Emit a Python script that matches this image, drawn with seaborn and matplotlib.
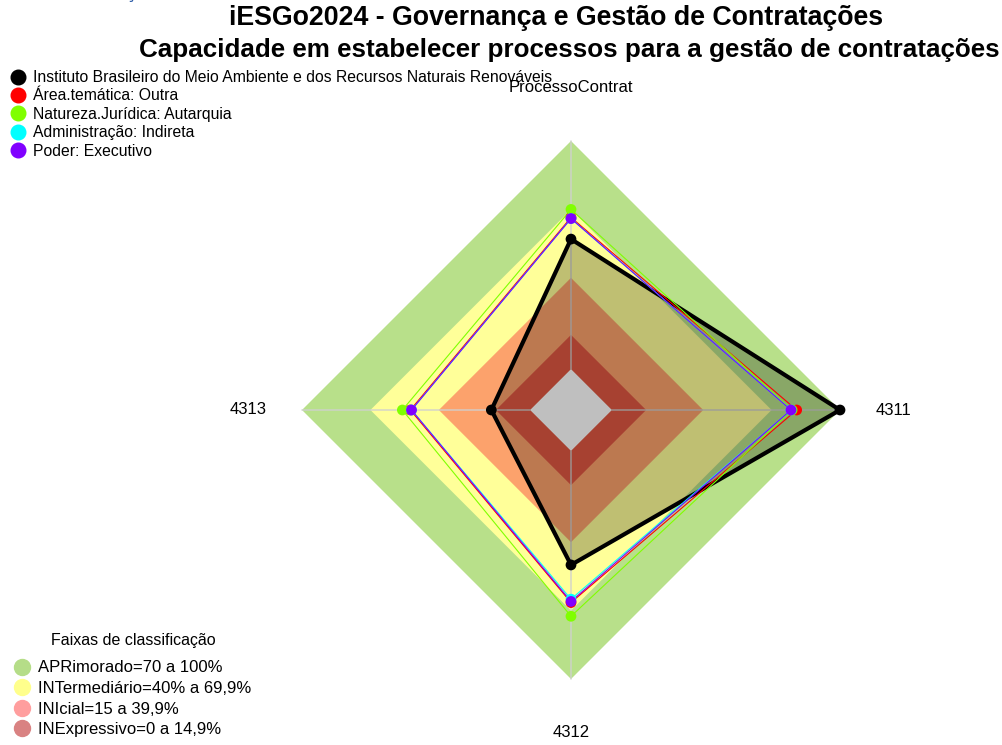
import numpy as np
import pandas as pd
import matplotlib
matplotlib.use("Agg")
import matplotlib.pyplot as plt
from matplotlib.lines import Line2D
import seaborn as sns

sns.set_style("white")
plt.rcParams["font.family"] = ["Liberation Sans", "DejaVu Sans"]
plt.rcParams["text.color"] = "black"

# Axes of the radar (clockwise from the top)
categories = ["ProcessoContrat", "4311", "4312", "4313"]
angles_deg = [90, 0, -90, 180]

# Scores (%) per axis
inst_vals = [57, 100, 50, 17]
area_vals = [66.5, 81, 66.5, 52.5]
natureza_vals = [70, 79, 72.5, 56]
admin_vals = [66, 78.5, 65, 52]
poder_vals = [66, 78.5, 66, 52]

series_names = [
    "Instituto Brasileiro do Meio Ambiente e dos Recursos Naturais Renováveis",
    "Área.temática: Outra",
    "Natureza.Jurídica: Autarquia",
    "Administração: Indireta",
    "Poder: Executivo",
]
series_vals = [inst_vals, area_vals, natureza_vals, admin_vals, poder_vals]
series_colors = ["black", "#FF0000", "#80FF00", "#00FFFF", "#8000FF"]

# Classification bands
band_levels = [100, 70, 40, 15, 0]
band_fill = ["#B8E08A", "#FFFF99", "#FCA26C", "#DF5842", "white"]
band_title = "Faixas de classificação"
band_labels = ["APRimorado=70 a 100%", "INTermediário=40% a 69,9%",
               "INIcial=15 a 39,9%", "INExpressivo=0 a 14,9%"]
band_legend_colors = ["#B5DD88", "#FFFF8C", "#FF9E9E", "#D98282"]

HOLE = 0.152  # radius of the inner hole (value 0)


def radius(v):
    return HOLE + (1 - HOLE) * np.asarray(v, dtype=float) / 100.0


theta = np.deg2rad(angles_deg)


def to_xy(vals, close=True):
    r = radius(vals)
    x = r * np.cos(theta)
    y = r * np.sin(theta)
    if close:
        x = np.append(x, x[0])
        y = np.append(y, y[0])
    return pd.DataFrame({"x": x, "y": y})


W, H = 1003, 745
cx, cy, R = 571, 410, 269
fig = plt.figure(figsize=(W / 100, H / 100), dpi=100)
ax = fig.add_axes([0, 0, 1, 1])
ax.set_xlim(-cx / R, (W - cx) / R)
ax.set_ylim(-(H - cy) / R, cy / R)
ax.axis("off")

# Background bands, outermost first
for lvl, col in zip(band_levels, band_fill):
    d = to_xy([lvl] * 4)
    ax.fill(d["x"], d["y"], color=col, lw=0, zorder=1)

# Axis spokes
for t in theta:
    r0, r1 = radius(0), radius(100)
    ax.plot([r0 * np.cos(t), r1 * np.cos(t)], [r0 * np.sin(t), r1 * np.sin(t)],
            color="#D0D0D0", lw=1.2, alpha=0.8, zorder=2)

# Institution polygon (filled) and comparison series
inst = to_xy(inst_vals)
ax.fill(inst["x"], inst["y"], color="black", alpha=0.25, lw=0, zorder=3)
sns.lineplot(data=inst, x="x", y="y", sort=False, estimator=None,
             color="black", lw=3, ax=ax, zorder=4)
sns.scatterplot(data=to_xy(inst_vals, close=False), x="x", y="y",
                color="black", s=60, edgecolor="none", ax=ax, zorder=5)

for vals, col in zip(series_vals[1:], series_colors[1:]):
    d = to_xy(vals)
    sns.lineplot(data=d, x="x", y="y", sort=False, estimator=None,
                 color=col, lw=0.8, ax=ax, zorder=6)
for vals, col in zip(series_vals[1:], series_colors[1:]):
    sns.scatterplot(data=to_xy(vals, close=False), x="x", y="y",
                    color=col, s=60, edgecolor="none", ax=ax, zorder=7)

# Axis labels
for lab, t in zip(categories, theta):
    ax.text(1.2 * np.cos(t), 1.2 * np.sin(t), lab, ha="center", va="center",
            fontsize=12, zorder=8)

# Titles
fig.text(556 / W, 1 - 18 / H, "iESGo2024 - Governança e Gestão de Contratações",
         ha="center", va="center", fontsize=19.3, fontweight="bold")
fig.text(569 / W, 1 - 50 / H, "Capacidade em estabelecer processos para a gestão de contratações",
         ha="center", va="center", fontsize=18.7, fontweight="bold")
fig.text(130 / W, 1 + 2 / H, "ç", ha="center", va="baseline", fontsize=14,
         color="#2E5DA8")

# Series legend
h1 = [Line2D([], [], marker="o", ls="none", color=c, markersize=10.5)
      for c in series_colors]
leg1 = fig.legend(h1, series_names, loc="upper left",
                  bbox_to_anchor=(11 / W, 1 - 70 / H), frameon=False,
                  fontsize=11.3, handlelength=0.9, handletextpad=0.5,
                  labelspacing=0.22, borderpad=0, borderaxespad=0)

# Band legend
fig.text(133 / W, 1 - 640 / H, band_title, ha="center", va="center", fontsize=11.5)
h2 = [Line2D([], [], marker="o", ls="none", color=c, markersize=11.5)
      for c in band_legend_colors]
leg2 = fig.legend(h2, band_labels, loc="lower left",
                  bbox_to_anchor=(14.5 / W, 8 / H), frameon=False,
                  fontsize=12, handlelength=0.9, handletextpad=0.5,
                  labelspacing=0.33, borderpad=0, borderaxespad=0)

fig.savefig("out.png", dpi=100)
